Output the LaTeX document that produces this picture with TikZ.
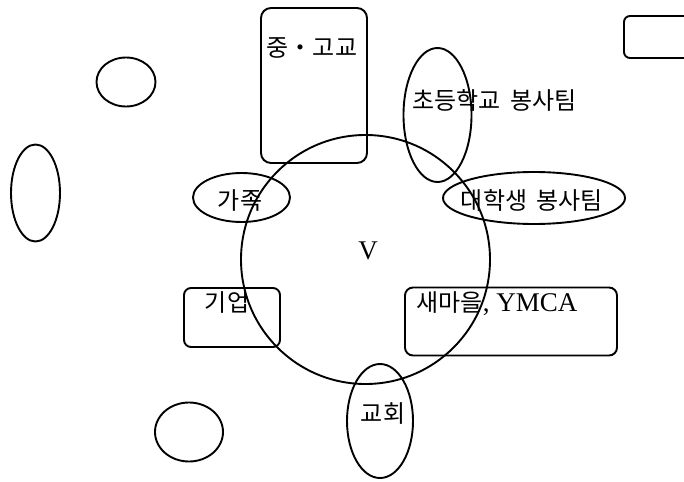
\documentclass[tikz,border=0pt]{standalone}
\usepackage{fontspec}
\setmainfont{Liberation Serif}
\newfontfamily\krfont{Noto Sans CJK KR}
\newcommand{\kr}[1]{{\krfont\fontsize{24}{28}\selectfont #1}}
\usetikzlibrary{shapes.geometric}

\begin{document}
\begin{tikzpicture}[
    x=1pt, y=-1pt,
    font=\fontsize{27}{30}\selectfont,
    box/.style={draw, line width=1.9pt, rounded corners=9pt, inner sep=0pt},
    bubble/.style={draw, ellipse, line width=1.9pt, inner sep=0pt},
    lbl/.style={inner sep=0pt, font=\krfont\fontsize{24}{28}\selectfont},
]
    \useasboundingbox (0,0) rectangle (684,481);
    \clip (0,0) rectangle (684,481);

    %==================== centre ring ====================
    \node[bubble, circle, minimum size=249] (ring) at (365.5,259.5) {};
    \node[inner sep=0pt] (vtag) at (368,251) {V};

    %==================== boxes ====================
    \node[box, rounded corners=10pt, minimum width=106, minimum height=155] (jgbox) at (314,85.5) {};
    \node[lbl] (jgtag) at (312,48) {중・고교};

    \node[box, rounded corners=6pt, minimum width=80, minimum height=42] (corner) at (664,37) {};

    \node[box, rounded corners=7pt, minimum width=96, minimum height=59] (company) at (232,317.5) {};
    \node[lbl] (comptag) at (227,303) {기업};

    \node[box, rounded corners=8pt, minimum width=212, minimum height=68] (saemaul) at (511,321.5) {};
    \node[inner sep=0pt] (smtag) at (497,304) {\kr{새마을}, YMCA};

    %==================== ellipses ====================
    \node[bubble, minimum width=59, minimum height=49] (blobtop) at (126,82) {};
    \node[bubble, minimum width=49, minimum height=97] (blobleft) at (35.5,193) {};
    \node[bubble, minimum width=68, minimum height=59] (blobbot) at (189,432) {};

    \node[bubble, minimum width=97, minimum height=49] (family) at (241.5,197.5) {};
    \node[lbl] (famtag) at (240,201) {가족};

    \node[bubble, minimum width=68, minimum height=134] (chodeung) at (437.5,115) {};
    \node[lbl] (chotag) at (494.5,100) {초등학교\hspace{0.4em}봉사팀};

    \node[bubble, minimum width=182, minimum height=52] (daehak) at (534,198) {};
    \node[lbl] (daetag) at (532,200) {대학생\hspace{0.4em}봉사팀};

    \node[bubble, minimum width=66, minimum height=114] (church) at (380,421) {};
    \node[lbl] (chtag) at (383,414) {교회};

\end{tikzpicture}
\end{document}
